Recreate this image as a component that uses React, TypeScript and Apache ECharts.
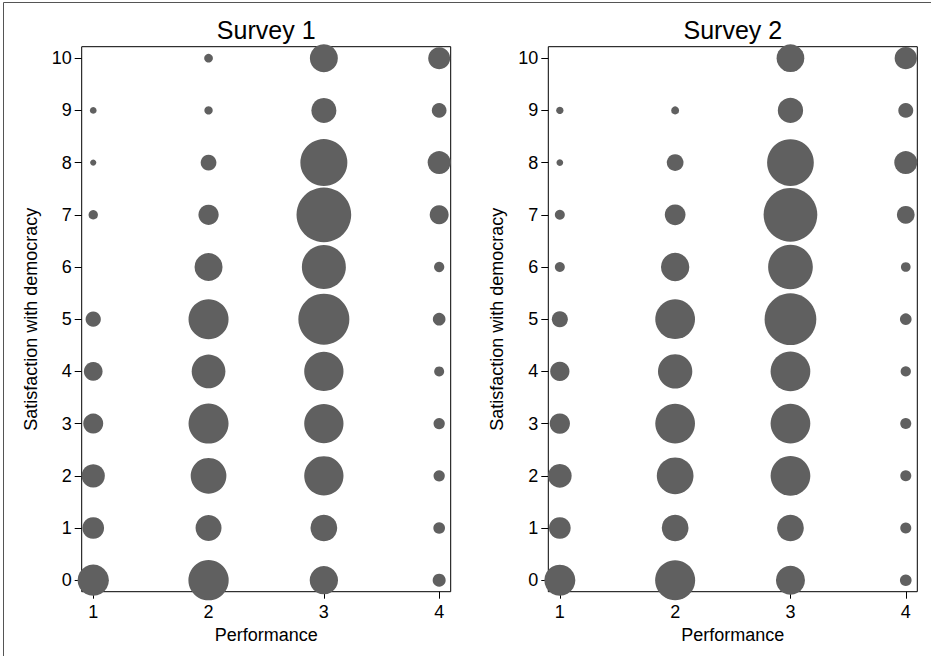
import React, { useEffect, useRef } from "react";
import * as echarts from "echarts";

// Categories
const PERFORMANCE = [1, 2, 3, 4];
const SATISFACTION = [0, 1, 2, 3, 4, 5, 6, 7, 8, 9, 10];
const SURVEY_TITLES = ["Survey 1", "Survey 2"];

// Relative frequencies (marker area), per performance level, for satisfaction 0..10
const SURVEY1_P1 = [32.4, 15.6, 17.9, 13.2, 11.6, 7.7, 0, 2.9, 1.3, 1.5, 0];
const SURVEY1_P2 = [53.7, 22.3, 42.1, 52.9, 37.5, 52.9, 25.9, 13.6, 8.2, 2.3, 2.5];
const SURVEY1_P3 = [26.5, 23.6, 51, 51, 51, 86, 64, 98.9, 73, 20.7, 25.9];
const SURVEY1_P4 = [5.6, 4.5, 4.2, 4.2, 3.3, 5.3, 3.5, 11.9, 17.5, 7.1, 16];

const SURVEY2_P1 = [31.8, 15.6, 18.6, 13.6, 12.3, 8.5, 3.3, 3.3, 1.5, 1.8, 0];
const SURVEY2_P2 = [52.9, 23.6, 44.5, 52.1, 38.9, 52.1, 26.5, 14.2, 9.2, 2.1, 0];
const SURVEY2_P3 = [27.8, 23.6, 52.1, 52.1, 52.1, 88.4, 66, 95.3, 72.1, 21.2, 25.4];
const SURVEY2_P4 = [4.5, 4, 4, 4, 3.5, 4.5, 3.1, 10.4, 17.5, 7.4, 16.4];

const SURVEYS = [
  [SURVEY1_P1, SURVEY1_P2, SURVEY1_P3, SURVEY1_P4],
  [SURVEY2_P1, SURVEY2_P2, SURVEY2_P3, SURVEY2_P4],
];

const FONT = "'Liberation Sans', Arial, Helvetica, sans-serif";
const MARKER = "#606060";
const SIZE_K = 5.5;

const GRIDS = [
  { left: 81.7, top: 46.7, width: 369, height: 545 },
  { left: 548.3, top: 46.7, width: 369, height: 545 },
];

export default function App() {
  const ref = useRef<HTMLDivElement>(null);

  useEffect(() => {
    if (!ref.current) return;
    const chart = echarts.init(ref.current, undefined, { renderer: "svg" });

    const buildData = (cols: number[][]) => {
      const out: number[][] = [];
      cols.forEach((col, i) => {
        col.forEach((w, j) => {
          if (w > 0) out.push([PERFORMANCE[i], SATISFACTION[j], w]);
        });
      });
      return out;
    };

    const xAxes = GRIDS.map((_, k) => ({
      type: "value",
      gridIndex: k,
      min: 0.9,
      max: 4.1,
      splitLine: { show: false },
      axisLine: { show: false, onZero: false },
      axisTick: {
        show: true,
        length: 7,
        customValues: PERFORMANCE,
        lineStyle: { color: "#000", width: 1 },
      },
      axisLabel: {
        customValues: PERFORMANCE,
        fontSize: 18,
        color: "#000",
        margin: 11,
        fontFamily: FONT,
      },
      name: "Performance",
      nameLocation: "middle",
      nameGap: 30,
      nameTextStyle: { fontSize: 18, color: "#000", fontFamily: FONT },
    }));

    const yAxes = GRIDS.map((_, k) => ({
      type: "value",
      gridIndex: k,
      min: -0.22,
      max: 10.22,
      splitLine: { show: false },
      axisLine: { show: false, onZero: false },
      axisTick: {
        show: true,
        length: 7,
        customValues: SATISFACTION,
        lineStyle: { color: "#000", width: 1 },
      },
      axisLabel: {
        customValues: SATISFACTION,
        fontSize: 18,
        color: "#000",
        margin: 10,
        fontFamily: FONT,
      },
      name: "Satisfaction with democracy",
      nameLocation: "middle",
      nameGap: 42,
      nameTextStyle: { fontSize: 18, color: "#000", fontFamily: FONT },
    }));

    const option = {
      animation: false,
      backgroundColor: "#fff",
      grid: GRIDS.map((g) => ({
        ...g,
        show: true,
        borderColor: "#000",
        borderWidth: 1,
        backgroundColor: "transparent",
        containLabel: false,
      })),
      xAxis: xAxes,
      yAxis: yAxes,
      graphic: [
        {
          type: "rect",
          shape: { x: 3.5, y: 2.5, width: 1000, height: 1000 },
          style: { fill: "none", stroke: "#555", lineWidth: 1 },
          silent: true,
          z: -10,
        },
        ...SURVEY_TITLES.map((t, k) => ({
          type: "text",
          x: GRIDS[k].left + GRIDS[k].width / 2,
          y: 29.5,
          style: {
            text: t,
            fontSize: 25,
            fontFamily: FONT,
            fill: "#000",
            textAlign: "center",
            textVerticalAlign: "middle",
          },
          silent: true,
        })),
      ],
      series: SURVEYS.map((cols, k) => ({
        type: "scatter",
        xAxisIndex: k,
        yAxisIndex: k,
        clip: false,
        silent: true,
        symbol: "circle",
        data: buildData(cols),
        symbolSize: (v: number[]) => SIZE_K * Math.sqrt(v[2]),
        itemStyle: { color: MARKER, opacity: 1 },
      })),
    };

    chart.setOption(option as any);
    return () => chart.dispose();
  }, []);

  return (
    <div
      ref={ref}
      style={{ position: "fixed", left: 0, top: 0, width: 931, height: 656 }}
    />
  );
}
